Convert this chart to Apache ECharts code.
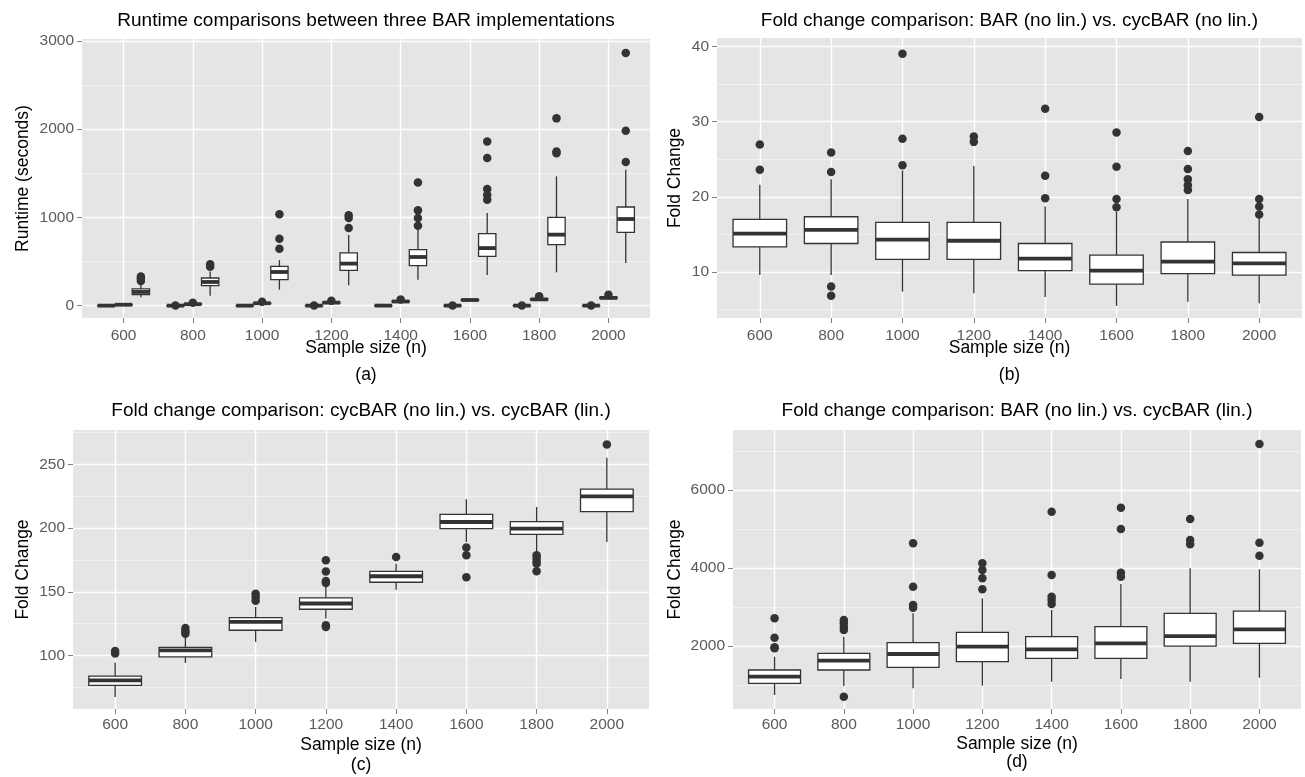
<!DOCTYPE html>
<html>
<head>
<meta charset="utf-8">
<title>BAR runtime and fold change</title>
<script src="https://cdn.jsdelivr.net/npm/echarts@6/dist/echarts.min.js"></script>
<style>
  html, body { margin: 0; padding: 0; background: #fff; }
  #chart { width: 1305px; height: 777px; }
</style>
</head>
<body>
<div id="chart"></div>
<script>
var sizes = ['600', '800', '1000', '1200', '1400', '1600', '1800', '2000'];

// every box row: [lower whisker, Q1, median, Q3, upper whisker]
// (a) runtime (seconds) of the three implementations
var runCycLin = [
  [0.08, 0.11, 0.13, 0.16, 0.21], [0.10, 0.14, 0.17, 0.20, 0.27],
  [0.12, 0.17, 0.21, 0.25, 0.33], [0.14, 0.20, 0.24, 0.29, 0.38],
  [0.17, 0.24, 0.29, 0.34, 0.45], [0.19, 0.27, 0.32, 0.38, 0.50],
  [0.21, 0.30, 0.36, 0.43, 0.56], [0.24, 0.34, 0.40, 0.48, 0.62]
];
var runCycLinOut = [[], [1.0], [], [1.2], [], [1.5], [1.6], [1.8]];
var runCycNoLin = [
  [6, 8.5, 10.3, 12, 15], [11, 15, 17, 20, 25], [17, 23, 27, 30, 37], [22, 29, 34, 38, 46],
  [32, 42, 47, 52, 62], [48, 59, 64, 69, 80], [52, 65, 71, 77, 90], [68, 82, 88, 95, 108]
];
var runCycNoLinOut = [[], [32], [44], [55], [70], [], [105], [122]];
var runBar = [
  [94, 125, 155, 189, 257], [113, 226, 268, 313, 388], [181, 294, 381, 445, 515],
  [232, 400, 476, 597, 800], [294, 453, 551, 634, 860], [348, 558, 652, 815, 1049],
  [377, 691, 804, 1000, 1464], [483, 830, 981, 1117, 1540]
];
var runBarOut = [
  [330, 305, 280], [470, 440], [1035, 758, 645], [1025, 993, 880],
  [1396, 1079, 993, 906], [1860, 1672, 1321, 1257, 1200], [2121, 1745, 1725], [2861, 1981, 1627]
];

// (b) BAR (no lin.) vs. cycBAR (no lin.)
var foldB = [
  [9.6, 13.36, 15.1, 17.0, 21.6], [9.6, 13.8, 15.6, 17.35, 22.35], [7.4, 11.7, 14.3, 16.6, 23.5],
  [7.2, 11.7, 14.16, 16.6, 24.1], [6.7, 10.2, 11.8, 13.8, 18.7], [5.5, 8.4, 10.2, 12.26, 18.0],
  [6.05, 9.8, 11.4, 14.0, 19.7], [5.85, 9.6, 11.15, 12.6, 18.6]
];
var foldBOut = [
  [26.96, 23.6], [25.9, 23.3, 8.1, 6.85], [39.0, 27.7, 24.2], [28.0, 27.3],
  [31.7, 22.8, 19.8], [28.55, 24.0, 19.7, 18.6], [26.1, 23.7, 22.35, 21.55, 20.9], [30.6, 19.7, 18.7, 17.66]
];

// (c) cycBAR (no lin.) vs. cycBAR (lin.)
var foldC = [
  [67.5, 76.5, 80.4, 83.8, 94.5], [94.2, 98.9, 104, 106.3, 114.1], [110.7, 119.8, 126.4, 129.8, 138.1],
  [129, 136.3, 140.8, 145.2, 155], [151.7, 157.5, 162.2, 166.1, 172.1], [189.1, 199.6, 204.8, 210.8, 222.6],
  [181.2, 195.1, 199.6, 205.1, 216.5], [189.1, 212.9, 224.9, 230.6, 255.3]
];
var foldCOut = [
  [103.5, 101.5], [121.5, 119, 117], [148.5, 146, 143], [174.7, 166, 158.5, 157, 123.8, 122.3],
  [177.3], [184.7, 178.6, 161.4], [178.6, 176.5, 174, 172, 166.1], [265.7]
];

// (d) BAR (no lin.) vs. cycBAR (lin.)
var foldD = [
  [744, 1044, 1214, 1385, 1726], [974, 1385, 1624, 1812, 2238], [915, 1453, 1795, 2085, 2838],
  [983, 1598, 1983, 2350, 3222], [1085, 1684, 1915, 2239, 2923], [1154, 1684, 2068, 2496, 3590],
  [1085, 2000, 2256, 2838, 3992], [1188, 2068, 2428, 2897, 3966]
];
var foldDOut = [
  [2710, 2213, 1966, 1940], [2667, 2581, 2496, 2410, 700], [4633, 3521, 3051, 2983], [4120, 3949, 3736, 3453],
  [5444, 3821, 3265, 3179, 3077], [5547, 5000, 3880, 3778], [5256, 4718, 4607], [7179, 4650, 4316]
];

// y tick labels and minor grid positions
var ticksA = [0, 1000, 2000, 3000], minorA = [500, 1500, 2500];
var ticksB = [10, 20, 30, 40], minorB = [5, 15, 25, 35];
var ticksC = [100, 150, 200, 250], minorC = [75, 125, 175, 225, 275];
var ticksD = [2000, 4000, 6000], minorD = [1000, 3000, 5000, 7000];
var xTicks = [1, 2, 3, 4, 5, 6, 7, 8];

var ink = '#333333';
var font = "'Liberation Sans', Arial, Helvetica, sans-serif";

function boxData(rows) {
  return rows.map(function (r, i) { return [i + 1].concat(r); });
}

function outData(groups, shift) {
  var pts = [];
  groups.forEach(function (g, i) {
    g.forEach(function (v) { pts.push([i + 1 + shift, v]); });
  });
  return pts;
}

// ggplot-like box: no whisker caps, heavy median
function boxRenderer(shift, width) {
  return function (params, api) {
    var x = api.value(0) + shift;
    var lo = api.coord([x, api.value(1)]);
    var q1 = api.coord([x, api.value(2)]);
    var md = api.coord([x, api.value(3)]);
    var q3 = api.coord([x, api.value(4)]);
    var hi = api.coord([x, api.value(5)]);
    var half = api.size([width, 0])[0] / 2;
    var thin = { stroke: ink, lineWidth: 1.3 };
    return {
      type: 'group',
      children: [
        { type: 'line', shape: { x1: lo[0], y1: lo[1], x2: q1[0], y2: q1[1] }, style: thin },
        { type: 'line', shape: { x1: q3[0], y1: q3[1], x2: hi[0], y2: hi[1] }, style: thin },
        { type: 'rect', shape: { x: q3[0] - half, y: q3[1], width: half * 2, height: q1[1] - q3[1] },
          style: { fill: '#fff', stroke: ink, lineWidth: 1.3 } },
        { type: 'line', shape: { x1: md[0] - half, y1: md[1], x2: md[0] + half, y2: md[1] },
          style: { stroke: ink, lineWidth: 3.8 } }
      ]
    };
  };
}

function boxSeries(gi, rows, outs, shift, width) {
  return [{
    type: 'custom',
    xAxisIndex: gi,
    yAxisIndex: gi,
    renderItem: boxRenderer(shift, width),
    encode: { x: 0, y: [1, 2, 3, 4, 5] },
    data: boxData(rows),
    z: 2
  }, {
    type: 'scatter',
    xAxisIndex: gi,
    yAxisIndex: gi,
    symbolSize: 8.5,
    itemStyle: { color: ink, opacity: 1 },
    data: outData(outs, shift),
    z: 3
  }];
}

function xAxisFor(gi, letter, gap, lineH, labelMargin) {
  return {
    type: 'value', gridIndex: gi, min: 0.4, max: 8.6,
    name: 'Sample size (n)\n(' + letter + ')',
    nameLocation: 'middle', nameGap: gap, nameMoveOverlap: false,
    nameTextStyle: { fontFamily: font, fontSize: 17.5, color: '#000', lineHeight: lineH },
    axisLine: { show: false, onZero: false },
    axisTick: { show: true, length: 5, customValues: xTicks, lineStyle: { color: '#7f7f7f', width: 1 } },
    axisLabel: {
      customValues: xTicks, margin: labelMargin, fontFamily: font, fontSize: 15.5, color: '#5a5a5a',
      formatter: function (v) { return sizes[Math.round(v) - 1]; }
    },
    splitLine: { show: true, lineStyle: { color: '#ffffff', width: 1.4 } }
  };
}

function yAxisMajor(gi, min, max, ticks, name, gap) {
  return {
    type: 'value', gridIndex: gi, min: min, max: max,
    name: name, nameLocation: 'middle', nameGap: gap, nameMoveOverlap: false,
    nameTextStyle: { fontFamily: font, fontSize: 17.5, color: '#000' },
    axisLine: { show: false, onZero: false },
    axisTick: { show: true, length: 5, customValues: ticks, lineStyle: { color: '#7f7f7f', width: 1 } },
    axisLabel: {
      customValues: ticks, margin: 8, fontFamily: font, fontSize: 15.5, color: '#5a5a5a',
      formatter: function (v) { return String(v); }
    },
    splitLine: { show: true, lineStyle: { color: '#ffffff', width: 1.4 } }
  };
}

function yAxisMinor(gi, min, max, minor) {
  return {
    type: 'value', gridIndex: gi, min: min, max: max, position: 'left',
    axisLine: { show: false, onZero: false },
    axisTick: { show: false, customValues: minor },
    axisLabel: { show: false, customValues: minor },
    splitLine: { show: true, lineStyle: { color: '#f3f3f3', width: 0.9 } }
  };
}

function titleFor(text, cx, top) {
  return {
    text: text, left: cx, top: top, textAlign: 'center', padding: 0,
    textStyle: { fontFamily: font, fontSize: 19, fontWeight: 'normal', color: '#000' }
  };
}

var gridStyle = { show: true, backgroundColor: '#e5e5e5', borderWidth: 0, outerBoundsMode: 'none' };

var option = {
  animation: false,
  backgroundColor: '#ffffff',
  title: [
    titleFor('Runtime comparisons between three BAR implementations', 366, 11),
    titleFor('Fold change comparison: BAR (no lin.) vs. cycBAR (no lin.)', 1009.5, 11),
    titleFor('Fold change comparison: cycBAR (no lin.) vs. cycBAR (lin.)', 361, 401),
    titleFor('Fold change comparison: BAR (no lin.) vs. cycBAR (lin.)', 1017, 401)
  ],
  grid: [
    Object.assign({ left: 82, top: 39, width: 568, height: 279 }, gridStyle),
    Object.assign({ left: 717, top: 38, width: 585, height: 280 }, gridStyle),
    Object.assign({ left: 73, top: 430, width: 576, height: 279 }, gridStyle),
    Object.assign({ left: 733, top: 430, width: 568, height: 279 }, gridStyle)
  ],
  xAxis: [
    xAxisFor(0, 'a', 17, 27, 10),
    xAxisFor(1, 'b', 17, 27, 10),
    xAxisFor(2, 'c', 26, 20, 8),
    xAxisFor(3, 'd', 26, 18, 8)
  ],
  yAxis: [
    yAxisMajor(0, -140, 3020, ticksA, 'Runtime (seconds)', 50),
    yAxisMajor(1, 3.9, 41.1, ticksB, 'Fold Change', 33),
    yAxisMajor(2, 58, 277, ticksC, 'Fold Change', 41),
    yAxisMajor(3, 385, 7540, ticksD, 'Fold Change', 49),
    yAxisMinor(0, -140, 3020, minorA),
    yAxisMinor(1, 3.9, 41.1, minorB),
    yAxisMinor(2, 58, 277, minorC),
    yAxisMinor(3, 385, 7540, minorD)
  ],
  series: [].concat(
    boxSeries(0, runCycLin, runCycLinOut, -0.25, 0.25),
    boxSeries(0, runCycNoLin, runCycNoLinOut, 0, 0.25),
    boxSeries(0, runBar, runBarOut, 0.25, 0.25),
    boxSeries(1, foldB, foldBOut, 0, 0.75),
    boxSeries(2, foldC, foldCOut, 0, 0.75),
    boxSeries(3, foldD, foldDOut, 0, 0.75)
  )
};

var myChart = echarts.init(document.getElementById('chart'));
myChart.setOption(option);
</script>
</body>
</html>
